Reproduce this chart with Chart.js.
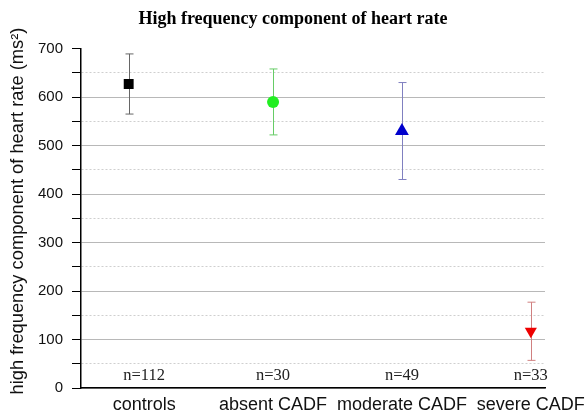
<!DOCTYPE html>
<html>
<head>
<meta charset="utf-8">
<script src="https://cdn.jsdelivr.net/npm/chart.js@4"></script>
<style>
  html, body { margin: 0; padding: 0; background: #fff; }
  #wrap { width: 586px; height: 414px; }
</style>
</head>
<body>
<div id="wrap"><canvas id="chart"></canvas></div>
<script>
// --- data ---
const categories = ['controls', 'absent CADF', 'moderate CADF', 'severe CADF'];
const catPos = [1, 2, 3, 4];
const markerPos = [0.88, 2, 3, 4];     // controls marker sits a bit left of its label
const means = [627, 590, 530, 117];
const errors = [62, 68, 100, 60];
const nLabels = ['n=112', 'n=30', 'n=49', 'n=33'];
const yTitle = 'high frequency component of heart rate (ms²)';

// --- styles ---
const markerColors = ['#000000', '#22ee22', '#0000cc', '#ee0000'];
const barColors = ['#666666', '#66cc66', '#8080c0', '#d08080'];
const pointStyles = ['rect', 'circle', 'triangle', 'triangle'];
const rotations = [0, 0, 0, 180];
const radii = [7, 6, 8, 7];

const isMinor = c => c.tick && c.tick.value % 100 !== 0;

const errorBars = {
    id: 'errorBars',
    beforeDatasetsDraw(chart) {
        const { ctx, scales: { x, y } } = chart;
        ctx.save();
        ctx.lineWidth = 1;
        means.forEach((m, i) => {
            const px = Math.round(x.getPixelForValue(markerPos[i])) + 0.5;
            const top = y.getPixelForValue(m + errors[i]);
            const bot = y.getPixelForValue(m - errors[i]);
            ctx.strokeStyle = barColors[i];
            ctx.beginPath();
            ctx.moveTo(px, top); ctx.lineTo(px, bot);
            ctx.moveTo(px - 4, top); ctx.lineTo(px + 4, top);
            ctx.moveTo(px - 4, bot); ctx.lineTo(px + 4, bot);
            ctx.stroke();
        });
        ctx.restore();
    },
    afterDatasetsDraw(chart) {
        const { ctx, scales: { x, y } } = chart;
        ctx.save();
        ctx.font = '16.5px "Liberation Serif", serif';
        ctx.fillStyle = '#222';
        ctx.textAlign = 'center';
        ctx.textBaseline = 'middle';
        nLabels.forEach((t, i) => {
            ctx.fillText(t, x.getPixelForValue(catPos[i]), y.getPixelForValue(25));
        });
        // y axis title, sits a little above the plot's centre in the original
        ctx.translate(18, 211);
        ctx.rotate(-Math.PI / 2);
        ctx.font = '18.3px "Liberation Sans", Arial, sans-serif';
        ctx.fillStyle = '#111';
        ctx.fillText(yTitle, 0, 0);
        ctx.restore();
    }
};

new Chart(document.getElementById('chart'), {
    type: 'scatter',
    data: {
        datasets: [{
            data: means.map((m, i) => ({ x: markerPos[i], y: m })),
            pointStyle: pointStyles,
            rotation: rotations,
            radius: radii,
            backgroundColor: markerColors,
            borderColor: markerColors,
            borderWidth: 0
        }]
    },
    options: {
        responsive: true,
        maintainAspectRatio: false,
        animation: false,
        layout: { padding: 0 },
        plugins: {
            legend: { display: false },
            tooltip: { enabled: false },
            title: {
                display: true,
                text: 'High frequency component of heart rate',
                color: '#000',
                font: { family: '"Liberation Serif", serif', size: 18, weight: 'bold' },
                padding: { top: 9, bottom: 18 }
            }
        },
        scales: {
            x: {
                type: 'linear',
                min: 0.51,
                max: 4.11,
                afterBuildTicks: s => { s.ticks = catPos.map(v => ({ value: v })); },
                afterFit: s => { s.height = 26; s.paddingLeft = 0; s.paddingRight = 0; },
                grid: { display: false, drawTicks: false },
                border: { display: true, color: '#000', width: 1.5 },
                ticks: {
                    autoSkip: false,
                    maxRotation: 0,
                    padding: 6,
                    color: '#111',
                    font: { family: '"Liberation Sans", Arial, sans-serif', size: 18 },
                    callback: v => categories[catPos.indexOf(v)]
                }
            },
            y: {
                min: 0,
                max: 700,
                afterFit: s => { s.width = 81; },
                border: {
                    display: true, color: '#000', width: 1.5,
                    dash: c => (isMinor(c) ? [2, 2] : [])
                },
                grid: {
                    color: c => (c.tick.value === 700 ? 'rgba(0,0,0,0)' : (isMinor(c) ? '#cfcfcf' : '#b8b8b8')),
                    tickColor: '#000',
                    tickLength: 9,
                    lineWidth: 1
                },
                ticks: {
                    stepSize: 50,
                    padding: 9,
                    color: '#111',
                    font: { family: '"Liberation Sans", Arial, sans-serif', size: 15 },
                    callback: v => (v % 100 === 0 ? v : '')
                }
            },
            // empty right-hand spacer so the title centres on the whole canvas
            spacer: {
                position: 'right',
                display: true,
                afterFit: s => { s.width = 41; },
                grid: { display: false, drawTicks: false },
                border: { display: false },
                ticks: { display: false }
            }
        }
    },
    plugins: [errorBars]
});
</script>
</body>
</html>
